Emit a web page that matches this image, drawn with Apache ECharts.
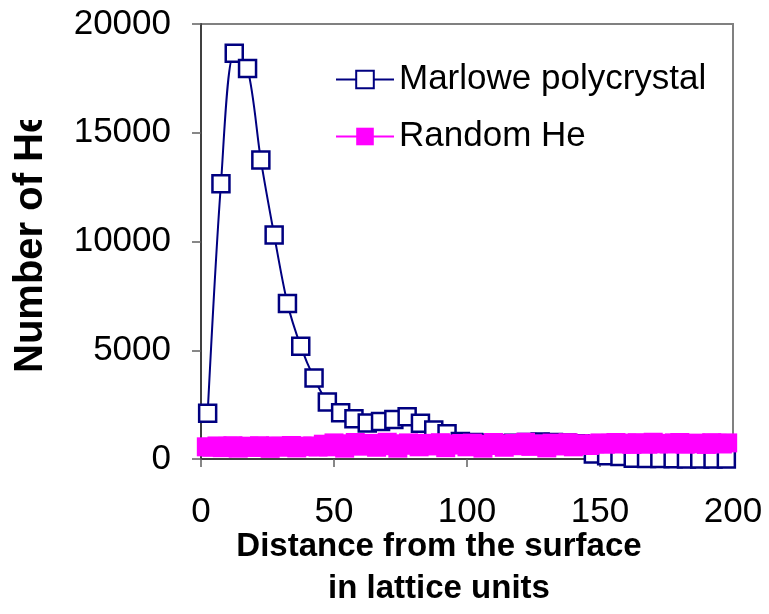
<!DOCTYPE html>
<html><head><meta charset="utf-8">
<script src="https://cdn.jsdelivr.net/npm/echarts@6/dist/echarts.min.js"></script>
<style>html,body{margin:0;padding:0;background:#fff}#c{width:769px;height:614px}</style>
</head><body><div id="c"></div>
<script>
const xTicks = [0, 50, 100, 150, 200];
const yTicks = [0, 5000, 10000, 15000, 20000];
const marloweX = [2.5,7.5,12.5,17.5,22.5,27.5,32.5,37.5,42.5,47.5,52.5,57.5,62.5,67.5,72.5,77.5,82.5,87.5,92.5,97.5,102.5,107.5,112.5,117.5,122.5,127.5,132.5,137.5,142.5,147.5,152.5,157.5,162.5,167.5,172.5,177.5,182.5,187.5,192.5,197.5];
const marloweY = [2100,12650,18650,17950,13750,10300,7150,5180,3720,2620,2130,1850,1650,1720,1820,1940,1640,1330,1160,800,760,720,700,720,760,780,760,740,700,230,150,120,30,20,20,10,0,0,0,0];
const randomX = [2,4,6,8,10,12,14,16,18,20,22,24,26,28,30,32,34,36,38,40,42,44,46,48,50,52,54,56,58,60,62,64,66,68,70,72,74,76,78,80,82,84,86,88,90,92,94,96,98,100,102,104,106,108,110,112,114,116,118,120,122,124,126,128,130,132,134,136,138,140,142,144,146,148,150,152,154,156,158,160,162,164,166,168,170,172,174,176,178,180,182,184,186,188,190,192,194,196,198];
const randomY = [560,540,600,520,580,610,500,570,590,530,610,560,490,600,580,540,620,510,590,570,600,550,
680,560,740,620,500,700,760,590,650,720,540,680,770,610,500,700,740,630,560,720,680,600,750,520,690,640,710,
560,730,680,500,620,760,700,540,650,720,610,770,580,690,640,510,730,670,600,750,560,700,660,620,
700,740,680,720,760,690,730,670,750,710,680,770,700,720,690,740,760,680,710,730,700,670,750,720,690,740];
const seriesNames = ['Marlowe polycrystal', 'Random He'];
const xTitle = 'Distance from the surface\nin lattice units';
const yTitle = 'Number of He';

const FONT = "'Liberation Sans', Arial, sans-serif";
const chart = echarts.init(document.getElementById('c'));
chart.setOption({
  animation: false,
  backgroundColor: '#fff',
  grid: { left: 201, top: 24, right: 36, bottom: 155, show: true, borderColor: '#808080', borderWidth: 2, backgroundColor: 'transparent' },
  title: { text: xTitle, left: 434, top: 521, textAlign: 'center',
    textStyle: { fontFamily: FONT, fontSize: 33, fontWeight: 'bold', color: '#000', lineHeight: 42 } },
  legend: {
    orient: 'vertical', left: 330, top: 57, itemWidth: 58, itemHeight: 22, itemGap: 22,
    data: seriesNames,
    textStyle: { fontFamily: FONT, fontSize: 35, color: '#000' }
  },
  xAxis: {
    type: 'value', min: xTicks[0], max: xTicks[xTicks.length - 1], interval: 50,
    axisLine: { show: true, onZero: false, lineStyle: { color: '#404040', width: 2 } },
    axisTick: { show: true, length: 8, lineStyle: { color: '#606060', width: 1.5 } },
    axisLabel: { fontFamily: FONT, fontSize: 35, color: '#000', margin: 36, formatter: v => String(v) },
    splitLine: { show: false }
  },
  yAxis: {
    type: 'value', min: yTicks[0], max: yTicks[yTicks.length - 1], interval: 5000,
    axisLine: { show: true, lineStyle: { color: '#404040', width: 2 } },
    axisTick: { show: true, length: 9, lineStyle: { color: '#606060', width: 1.5 } },
    axisLabel: { fontFamily: FONT, fontSize: 35, color: '#000', margin: 30, formatter: v => String(v) },
    splitLine: { show: false }
  },
  graphic: [
    { type: 'text', x: 31, y: 373, rotation: Math.PI / 2, z: 10,
      style: { text: yTitle, fontFamily: FONT, fontSize: 40, fontWeight: 'bold', fill: '#000', textAlign: 'left', textVerticalAlign: 'middle' } },
    { type: 'rect', shape: { x: 0, y: 0, width: 60, height: 120 }, z: 20, style: { fill: '#fff' } }
  ],
  series: [
    {
      name: seriesNames[0], type: 'line', smooth: 0.3,
      data: marloweX.map((x, i) => [x, marloweY[i]]),
      symbol: 'rect', symbolSize: 17, showAllSymbol: true,
      lineStyle: { color: '#000080', width: 2 },
      itemStyle: { color: '#fff', borderColor: '#000080', borderWidth: 2.5 },
      clip: false
    },
    {
      name: seriesNames[1], type: 'line',
      data: randomX.map((x, i) => [x, randomY[i]]),
      symbol: 'rect', symbolSize: 19, showAllSymbol: true,
      lineStyle: { color: '#ff00ff', width: 1.5 },
      itemStyle: { color: '#ff00ff', borderColor: '#ff00ff', borderWidth: 0 },
      clip: false
    }
  ]
});
</script></body></html>
